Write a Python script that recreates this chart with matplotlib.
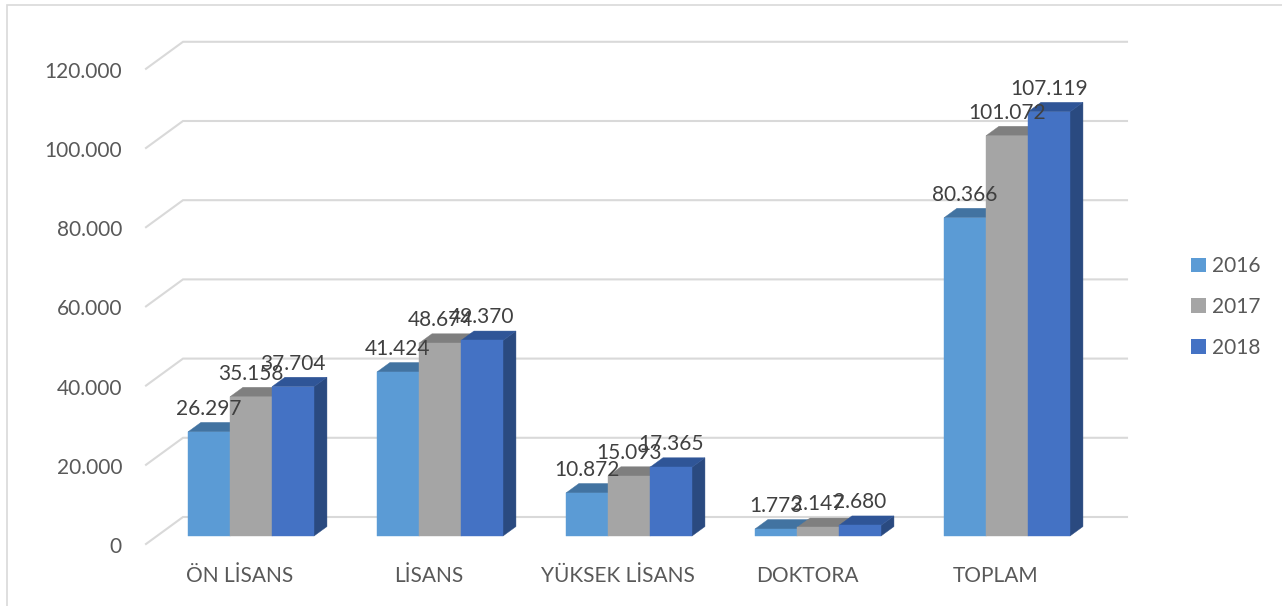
import matplotlib
matplotlib.use("Agg")
import matplotlib.pyplot as plt
from matplotlib.patches import Polygon, Patch, Rectangle

plt.rcParams['font.family'] = ['Lato', 'DejaVu Sans']

# ---- data ----
categories = ["ÖN LİSANS", "LİSANS", "YÜKSEK LİSANS", "DOKTORA", "TOPLAM"]
years = ["2016", "2017", "2018"]
values_2016 = [26297, 41424, 10872, 1773, 80366]
values_2017 = [35158, 48674, 15093, 2147, 101072]
values_2018 = [37704, 49370, 17365, 2680, 107119]
y_ticks = [0, 20000, 40000, 60000, 80000, 100000, 120000]

series = [values_2016, values_2017, values_2018]

# ---- styles ----
front_colors = ["#5B9BD5", "#A5A5A5", "#4472C4"]
top_colors = ["#4273A1", "#7F7F7F", "#2F5597"]
side_colors = ["#3C6690", "#6E6E6E", "#2A4A80"]
grid_color = "#D9D9D9"
tick_color = "#595959"
label_color = "#404040"


def fmt(v):
    return f"{v:,}".replace(",", ".")


W, H = 1282, 606
fig = plt.figure(figsize=(W / 100, H / 100), dpi=100)
ax = fig.add_axes([156.5 / W, (H - 536) / H, 945 / W, 475.2 / H])
ax.set_xlim(-0.5, len(categories) - 0.5)
ax.set_ylim(0, 120000)
ax.axis("off")

# oblique depth vector (full floor depth) in data units
px_per_cat = 189.0
px_per_val = 475.2 / 120000
Dx = 37 / px_per_cat
Dy = 27 / px_per_val
z_front = -0.296   # front edge of floor (relative to bar front plane)
z_back = 0.704     # back wall
z_bar = 0.35       # bar depth
wall_left = -0.5 + (183 - 156.5) / px_per_cat - z_back * Dx
wall_right = -0.5 + (1127 - 156.5) / px_per_cat - z_back * Dx

# back wall gridlines + left diagonals
for t in y_ticks:
    xs = [wall_left + z_front * Dx, wall_left + z_back * Dx, wall_right + z_back * Dx]
    ys = [t + z_front * Dy, t + z_back * Dy, t + z_back * Dy]
    ax.plot(xs, ys, color=grid_color, lw=1.5, clip_on=False, zorder=1,
            solid_joinstyle="miter")
    ax.annotate(fmt(t), xy=(wall_left + z_front * Dx, t + z_front * Dy),
                xytext=(-24, -9), textcoords="offset pixels",
                ha="right", va="baseline", fontsize=15, color=tick_color,
                annotation_clip=False)

# bars
bw = 42 / px_per_cat
ddx, ddy = z_bar * Dx, z_bar * Dy
z = 2
for i, cat in enumerate(categories):
    for k, vals in enumerate(series):
        v = vals[i]
        xl = i + (k - 1.5) * bw
        xr = xl + bw
        side = Polygon([(xr, 0), (xr + ddx, ddy), (xr + ddx, v + ddy), (xr, v)],
                       closed=True, facecolor=side_colors[k], edgecolor=side_colors[k],
                       lw=0.3, clip_on=False, zorder=z)
        top = Polygon([(xl, v), (xr, v), (xr + ddx, v + ddy), (xl + ddx, v + ddy)],
                      closed=True, facecolor=top_colors[k], edgecolor=top_colors[k],
                      lw=0.3, clip_on=False, zorder=z + 0.1)
        front = Polygon([(xl, 0), (xr, 0), (xr, v), (xl, v)],
                        closed=True, facecolor=front_colors[k], edgecolor=front_colors[k],
                        lw=0.3, clip_on=False, zorder=z + 0.2)
        for p in (side, top, front):
            ax.add_patch(p)
        z += 1
    # category label on the front edge of the floor
    ax.annotate(cat, xy=(i + z_front * Dx, z_front * Dy),
                xytext=(0, -38), textcoords="offset pixels",
                ha="center", va="baseline", fontsize=15, color=tick_color,
                annotation_clip=False)

# data labels (drawn on top)
for i in range(len(categories)):
    for k, vals in enumerate(series):
        v = vals[i]
        xc = i + (k - 1) * bw
        ax.annotate(fmt(v), xy=(xc, v), xytext=(0, 17), textcoords="offset pixels",
                    ha="center", va="baseline", fontsize=15, color=label_color,
                    annotation_clip=False, zorder=100)

# legend
handles = [Patch(facecolor=c, edgecolor="none") for c in front_colors]
fig.legend(handles, years, loc="center left", bbox_to_anchor=(1191 / W, 1 - 307 / H),
           frameon=False, fontsize=15, handlelength=0.7, handleheight=0.7,
           handletextpad=0.3, labelspacing=1.0, borderpad=0, borderaxespad=0,
           labelcolor=tick_color)

# chart area border (partially cropped)
fig.patches.append(Rectangle((7 / W, -0.05), 1.1, 1 - 5 / H + 0.05,
                             transform=fig.transFigure, fill=False,
                             edgecolor=grid_color, lw=1.2))

fig.savefig("out.png", dpi=100)
